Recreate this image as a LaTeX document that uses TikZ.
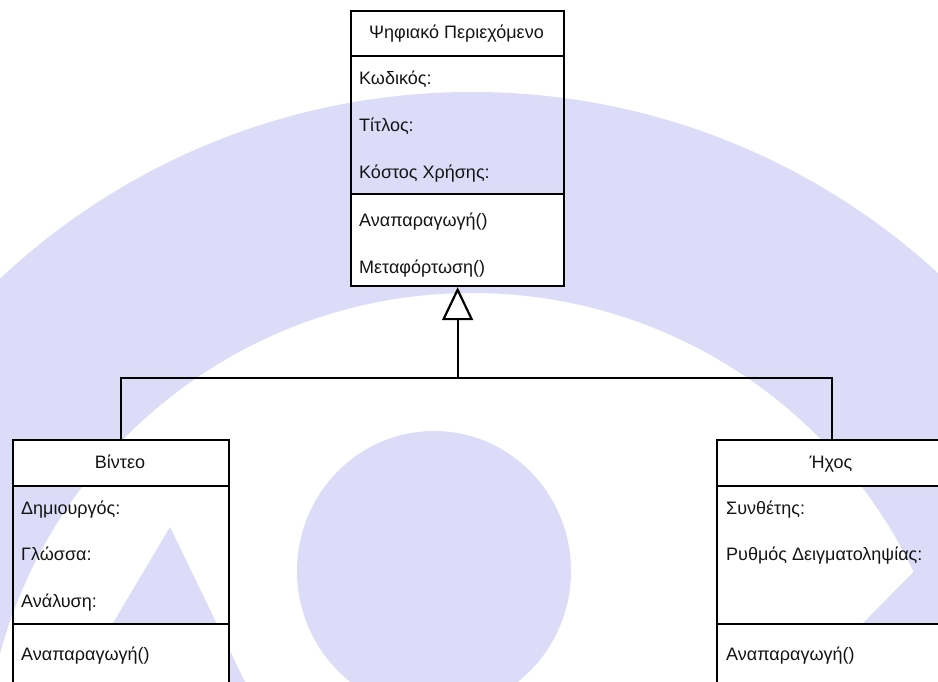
\documentclass[tikz,border=0pt]{standalone}
\usepackage{fontspec}
\setmainfont{Liberation Sans}
\usetikzlibrary{arrows.meta}
\definecolor{wm}{RGB}{220,220,248}
\definecolor{ink}{RGB}{20,20,20}
\begin{document}
\begin{tikzpicture}[x=1pt,y=-1pt,
  sect/.style={draw=black, line width=2.2pt, anchor=north west, inner sep=0pt},
  whitesect/.style={sect, fill=white},
  txt/.style={inner sep=0pt, text=ink, font=\fontsize{18}{21}\selectfont},
  attr/.style={txt, anchor=base west},
  ttl/.style={txt, anchor=base},
  conn/.style={line width=2.2pt, draw=black}]
\useasboundingbox (0,0) rectangle (938,682);
\clip (0,0) rectangle (938,682);
\fill[white] (0,0) rectangle (938,682);
% watermark
\fill[wm, even odd rule] (472,782) circle[radius=690pt] (472,782) circle[radius=489pt];
\fill[wm] (434,571) ellipse[x radius=137pt, y radius=140pt];
\fill[wm] (170,527) -- (245,682) -- (78,682) -- cycle;
\fill[wm] (950,535) -- (790,697) -- (950,697) -- cycle;
% top class
\node[whitesect, minimum width=213pt, minimum height=45pt] (pT) at (350,10) {};
\node[sect, minimum width=213pt, minimum height=138pt] (pA) at (350,55) {};
\node[whitesect, minimum width=213pt, minimum height=92pt] (pM) at (350,193) {};
\node[ttl] (pTt) at (456.5,39) {Ψηφιακό Περιεχόμενο};
\node[attr] (pA1) at (359,85) {Κωδικός:};
\node[attr] (pA2) at (359,132) {Τίτλος:};
\node[attr] (pA3) at (359,179) {Κόστος Χρήσης:};
\node[attr] (pM1) at (359,226) {Αναπαραγωγή()};
\node[attr] (pM2) at (359,273) {Μεταφόρτωση()};
% video class
\node[whitesect, minimum width=216pt, minimum height=46pt] (vT) at (12,439) {};
\node[sect, minimum width=216pt, minimum height=138pt] (vA) at (12,485) {};
\node[whitesect, minimum width=216pt, minimum height=80pt] (vM) at (12,623) {};
\node[ttl] (vTt) at (120,468) {Βίντεο};
\node[attr] (vA1) at (21,514) {Δημιουργός:};
\node[attr] (vA2) at (21,560) {Γλώσσα:};
\node[attr] (vA3) at (21,607) {Ανάλυση:};
\node[attr] (vM1) at (21,660) {Αναπαραγωγή()};
% audio class
\node[whitesect, minimum width=230pt, minimum height=46pt] (aT) at (716,439) {};
\node[sect, minimum width=230pt, minimum height=138pt] (aA) at (716,485) {};
\node[whitesect, minimum width=230pt, minimum height=80pt] (aM) at (716,623) {};
\node[ttl] (aTt) at (831,468) {Ήχος};
\node[attr] (aA1) at (726,514) {Συνθέτης:};
\node[attr] (aA2) at (726,560) {Ρυθμός Δειγματοληψίας:};
\node[attr] (aM1) at (726,660) {Αναπαραγωγή()};
% generalization
\coordinate (j) at (pM.south |- 0,378);
\draw[conn] (vT.north) |- (j) -| (aT.north);
\draw[conn, -{Triangle[open, fill=white, width=31pt, length=33pt, line width=2.2pt]}] (j) -- (pM.south);
\end{tikzpicture}
\end{document}
